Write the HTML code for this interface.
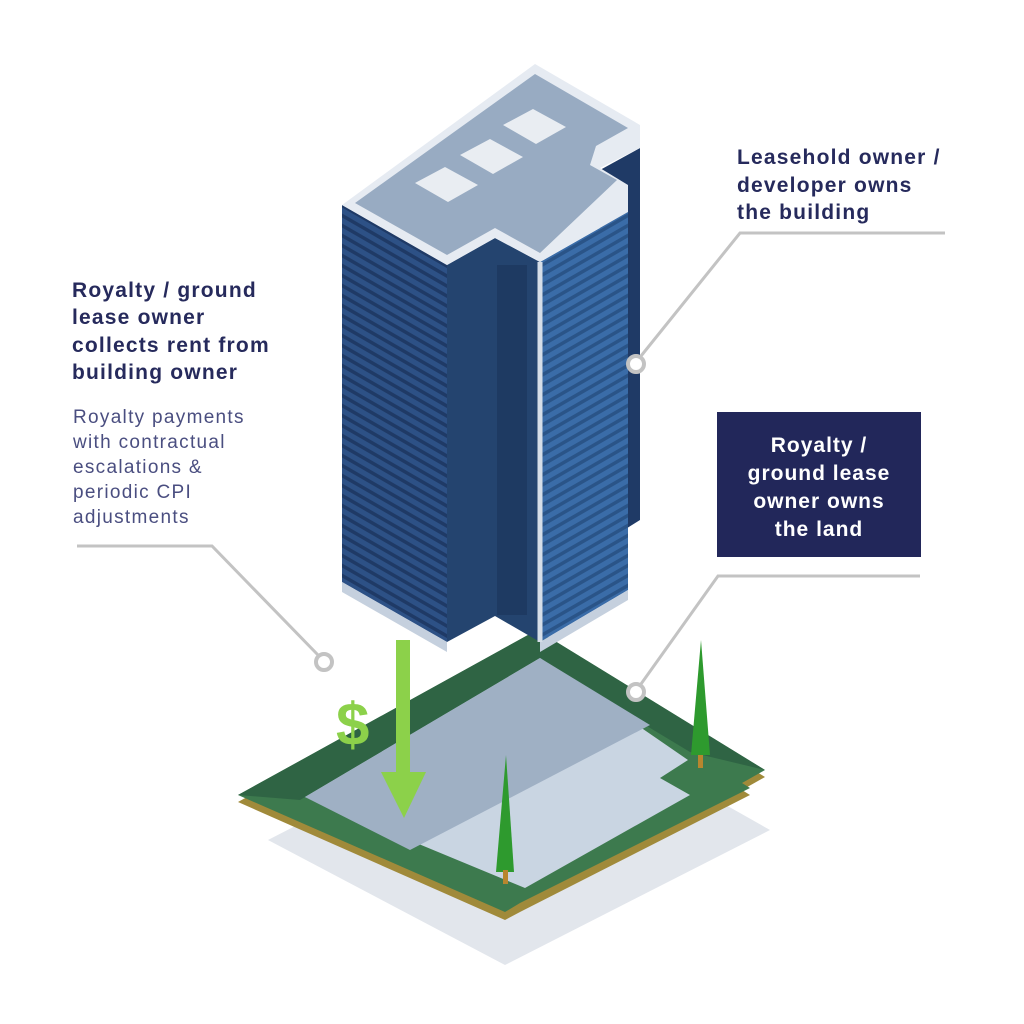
<!DOCTYPE html>
<html><head><style>
body{margin:0;background:#fff;width:1024px;height:1024px;overflow:hidden}
svg{position:absolute;left:0;top:0}
.b{font-family:"Liberation Sans",sans-serif;font-weight:bold;fill:#262a5c;font-size:21px;letter-spacing:1.2px}
.r{font-family:"Liberation Sans",sans-serif;fill:#4a4e80;font-size:19px;letter-spacing:1.3px}
.w{font-family:"Liberation Sans",sans-serif;font-weight:bold;fill:#fff;font-size:21px;letter-spacing:1px}
</style></head><body>
<svg width="1024" height="1024" viewBox="0 0 1024 1024">
<defs>
<pattern id="st" width="10" height="10" patternUnits="userSpaceOnUse" patternTransform="skewY(30)">
<rect width="10" height="10" fill="#2d5186"/><rect y="6" width="10" height="4" fill="#1f3a66"/></pattern>
<pattern id="st2" width="10" height="10" patternUnits="userSpaceOnUse" patternTransform="skewY(-30)">
<rect width="10" height="10" fill="#3a6ca8"/><rect y="6" width="10" height="4" fill="#2a5488"/></pattern>
</defs>
<polygon points="540,700 268,840 505,965 770,830" fill="#e2e6ec"/>
<polygon points="537,638 238,802 505,920 520,912 750,795 742,790 765,777" fill="#a08a3a"/>
<polygon points="537,630 238,795 505,912 520,903 750,788 742,783 765,770" fill="#3d7a4e"/>
<polygon points="537,630 238,795 300,800 537,660 690,752 765,770" fill="#2f6444"/>
<polygon points="540,658 305,797 525,888 690,795 660,778 688,760" fill="#c9d5e2"/>
<polygon points="540,658 305,797 410,850 650,725" fill="#9fb0c4"/>
<polygon points="506,755 496,872 514,872" fill="#2e9a2e"/><rect x="503" y="870" width="5" height="14" fill="#b8862e"/>
<polygon points="701,640 691,755 710,755" fill="#2e9a2e"/><rect x="698" y="755" width="5" height="13" fill="#b8862e"/>
<polygon points="600,170 640,148 640,520 600,545" fill="#1f3a66"/>
<polygon points="342,205 447,265 447,642 342,582" fill="url(#st)"/>
<polygon points="447,265 495,238 540,262 540,642 495,616 447,642" fill="#24446f"/>
<rect x="497" y="265" width="30" height="350" fill="#1e3a62"/>
<polygon points="540,262 628,212 628,590 540,642" fill="url(#st2)"/>
<polygon points="342,582 447,642 447,652 342,592" fill="#c5d0de"/>
<polygon points="540,642 628,590 628,600 540,652" fill="#c5d0de"/>
<line x1="540" y1="262" x2="540" y2="642" stroke="#d6dee8" stroke-width="5"/>
<polygon points="535,64 640,125 640,148 600,168 628,185 628,212 540,262 495,238 447,265 342,205" fill="#e6ebf2"/>
<polygon points="535,74 628,128 596,146 590,165 617,180 540,253 495,228 447,255 355,203" fill="#98abc2"/>
<polygon points="415,183 445,167 478,185 448,202" fill="#e9edf2"/>
<polygon points="460,155 490,139 523,157 493,174" fill="#e9edf2"/>
<polygon points="503,125 533,109 566,127 536,144" fill="#e9edf2"/>
<rect x="396" y="640" width="14" height="135" fill="#8cd14a"/>
<polygon points="381,772 426,772 404,818" fill="#8cd14a"/>
<text x="336" y="745" font-family="Liberation Sans,sans-serif" font-weight="bold" font-size="60" fill="#8cd14a">$</text>
<polyline points="77,546 212,546 318,655" fill="none" stroke="#c3c3c3" stroke-width="3"/>
<circle cx="324" cy="662" r="8" fill="#fff" stroke="#c3c3c3" stroke-width="4"/>
<polyline points="945,233 740,233 641,356" fill="none" stroke="#c3c3c3" stroke-width="3"/>
<circle cx="636" cy="364" r="8" fill="#fff" stroke="#c3c3c3" stroke-width="4"/>
<polyline points="920,576 718,576 641,684" fill="none" stroke="#c3c3c3" stroke-width="3"/>
<circle cx="636" cy="692" r="8" fill="#fff" stroke="#c3c3c3" stroke-width="4"/>
<text class="b" x="72" y="297">Royalty / ground</text>
<text class="b" x="72" y="324">lease owner</text>
<text class="b" x="72" y="352">collects rent from</text>
<text class="b" x="72" y="379">building owner</text>
<text class="r" x="73" y="423">Royalty payments</text>
<text class="r" x="73" y="448">with contractual</text>
<text class="r" x="73" y="473">escalations &amp;</text>
<text class="r" x="73" y="498">periodic CPI</text>
<text class="r" x="73" y="523">adjustments</text>
<text class="b" x="737" y="164">Leasehold owner /</text>
<text class="b" x="737" y="192">developer owns</text>
<text class="b" x="737" y="219">the building</text>
<rect x="717" y="412" width="204" height="145" fill="#22275a"/>
<text class="w" x="819" y="452" text-anchor="middle">Royalty /</text>
<text class="w" x="819" y="480" text-anchor="middle">ground lease</text>
<text class="w" x="819" y="508" text-anchor="middle">owner owns</text>
<text class="w" x="819" y="536" text-anchor="middle">the land</text>
</svg>
</body></html>
